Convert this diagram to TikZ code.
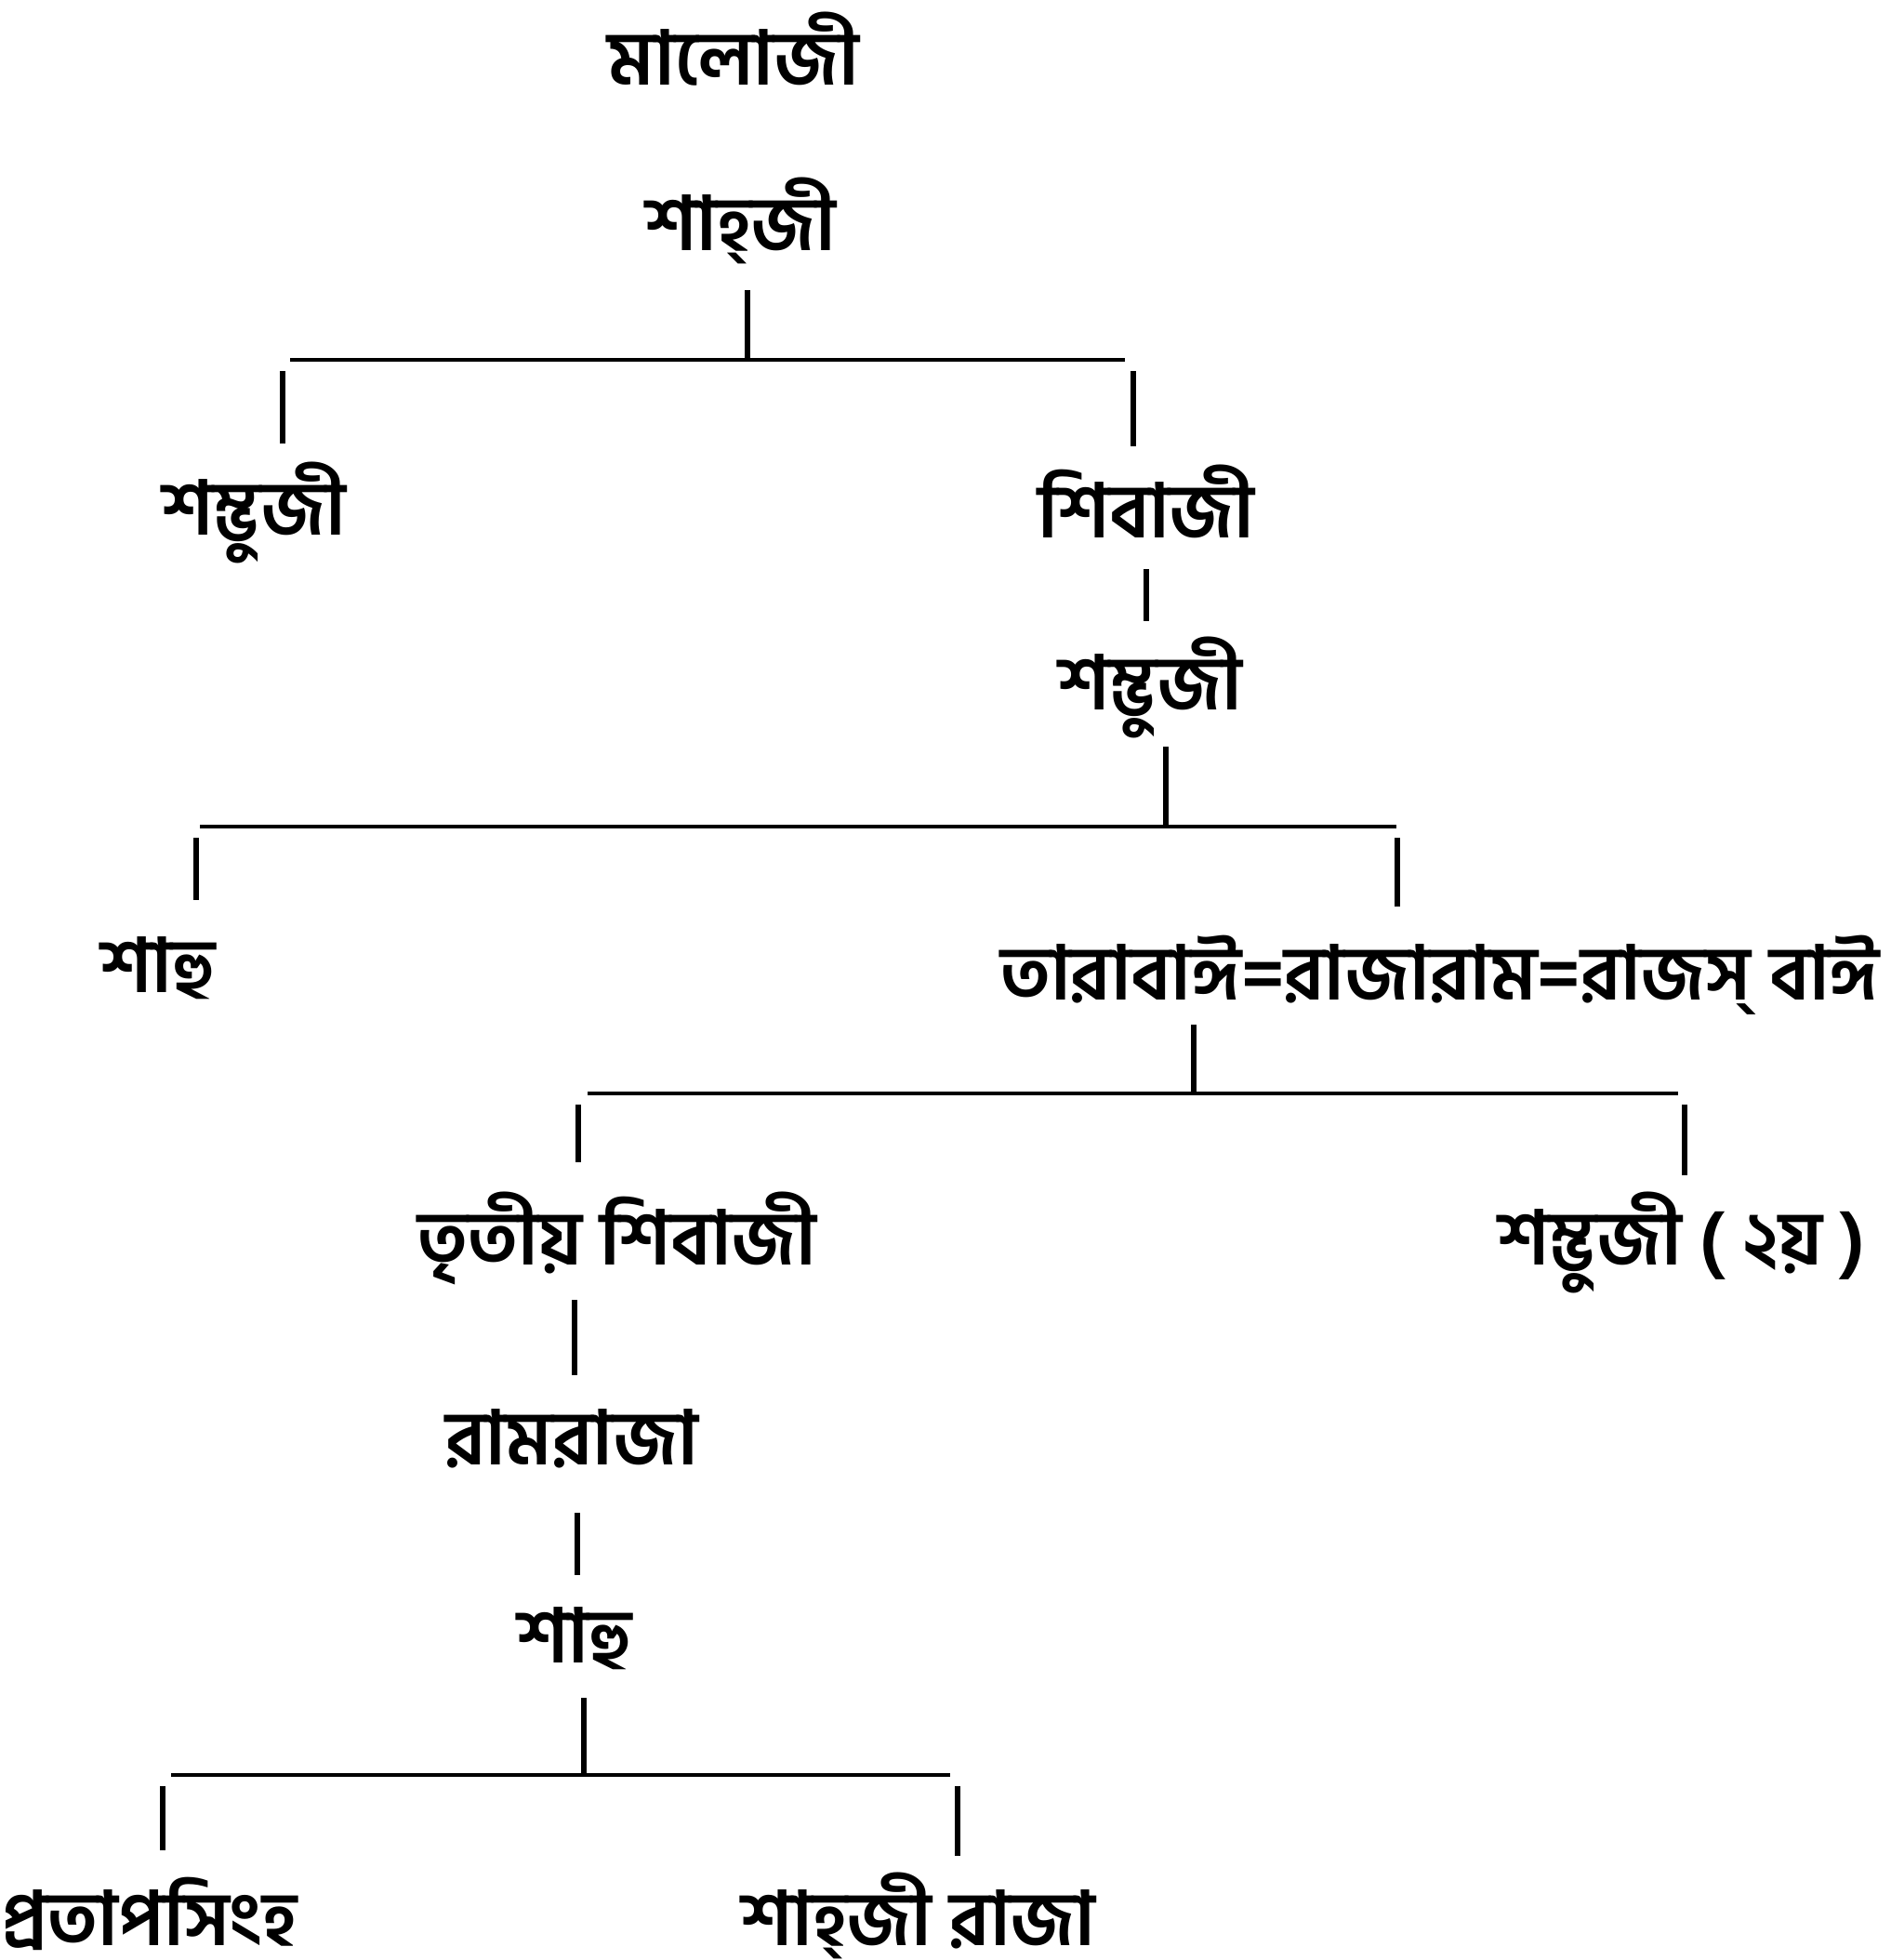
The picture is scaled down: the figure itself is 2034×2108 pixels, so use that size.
\documentclass[tikz,border=0pt]{standalone}
\usepackage{fontspec}
\newfontfamily\bnfont[Script=Bengali]{Hind Siliguri}
\usetikzlibrary{positioning,calc}

\tikzset{
  person/.style={font=\bnfont\bfseries\fontsize{23}{28}\selectfont,inner sep=0pt,anchor=base},
  stem/.style={line width=1.8pt},
  bar/.style={line width=1.1pt},
}

\begin{document}
\begin{tikzpicture}[x=0.01cm,y=-0.01cm]
  \useasboundingbox (0,0) rectangle (2034,2108);
  % names, generation by generation
  \node[person] (maloji)  at (789,91)   {মালোজী};
  \node[person] (shahji)  at (797,269)  {শাহ্জী};
  \node[person] (sambhuA) at (273,575)  {শম্ভুজী};
  \node[person] (shivaji) at (1233,578) {শিবাজী};
  \node[person] (sambhuB) at (1237,763) {শম্ভুজী};
  \node[person] (shahuA)  at (170,1067) {শাহু};
  \node[person] (rajaram) at (1549,1075) {তারাবাঈ=রাজারাম=রাজস্ বাঈ};
  \node[person] (shivajiC) at (664,1360) {তৃতীয় শিবাজী};
  \node[person] (sambhuC) at (1809,1360) {শম্ভুজী ( ২য় )};
  \node[person] (ramraja) at (615,1575) {রামরাজা};
  \node[person] (shahuB)  at (618,1788) {শাহু};
  \node[person] (pratap)  at (161,2092) {প্রতাপসিংহ};
  \node[person] (shahjiR) at (988,2092) {শাহ্জী রাজা};

  % junctions on the bars
  \coordinate (jA) at (804,387);
  \coordinate (jAl) at (304,387);  \coordinate (jAr) at (1219,387);
  \coordinate (jC) at (1254,889);
  \coordinate (jCl) at (211,889);  \coordinate (jCr) at (1503,889);
  \coordinate (jD) at (1284,1176);
  \coordinate (jDl) at (622,1176); \coordinate (jDr) at (1812,1176);
  \coordinate (jE) at (628,1909);
  \coordinate (jEl) at (175,1909); \coordinate (jEr) at (1030,1909);

  % bars
  \draw[bar] ($(jAl)+(8,0)$) -- ($(jAr)+(-9,0)$);
  \draw[bar] ($(jCl)+(4,0)$) -- ($(jCr)+(-1,0)$);
  \draw[bar] ($(jDl)+(10,0)$) -- ($(jDr)+(-7,0)$);
  \draw[bar] ($(jEl)+(9,0)$) -- ($(jEr)+(-8,0)$);

  % stems from parents down to the bars
  \foreach \p/\j/\g in {shahji/jA/0.43, sambhuB/jC/0.40, rajaram/jD/0.27, shahuB/jE/0.38}
    \draw[stem,shorten <=\g cm] (\j |- \p.base) -- (\j);

  % drops from the bars to the children
  \foreach \j/\c/\g in {jAl/sambhuA/0.98, jAr/shivaji/0.98, jCl/shahuA/0.99, jCr/rajaram/1.0,
                        jDl/shivajiC/1.1, jDr/sambhuC/0.96, jEl/pratap/1.02, jEr/shahjiR/0.96}
    \draw[stem,shorten <=0.12cm,shorten >=\g cm] (\j) -- (\j |- \c.base);

  % single lines of descent
  \draw[stem,shorten <=0.34cm,shorten >=0.95cm] (shivaji.base -| 1233,0) -- (sambhuB.base -| 1233,0);
  \draw[stem,shorten <=0.38cm,shorten >=0.96cm] (shivajiC.base -| 618,0) -- (ramraja.base -| 618,0);
  \draw[stem,shorten <=0.52cm,shorten >=0.94cm] (ramraja.base -| 621,0) -- (shahuB.base -| 621,0);
\end{tikzpicture}
\end{document}
